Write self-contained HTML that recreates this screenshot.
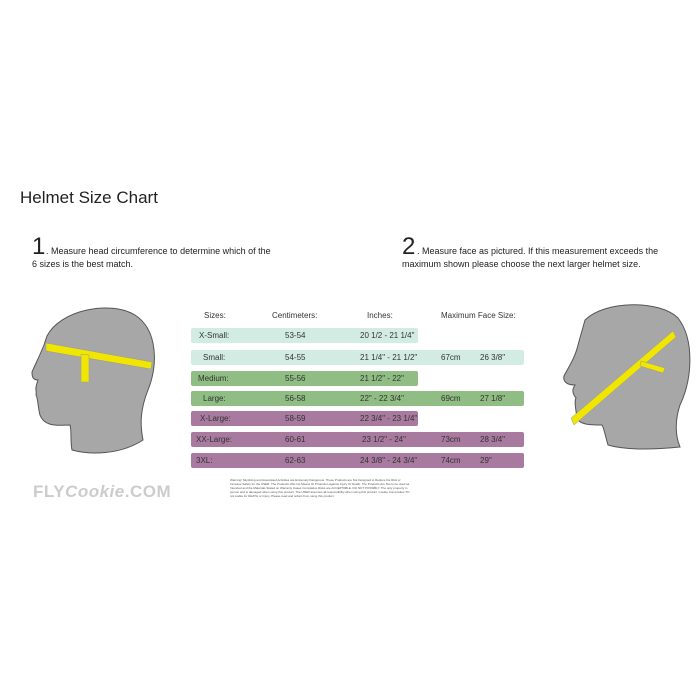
<!DOCTYPE html>
<html><head><style>
body{margin:0;width:700px;height:700px;background:#fff;font-family:"Liberation Sans",sans-serif;position:relative;overflow:hidden;color:#222}
.a{position:absolute;white-space:nowrap}
.bar{position:absolute;left:191px;height:15px;border-radius:2px}
.t{position:absolute;font-size:8px;color:#333}
</style></head><body>
<div class="a" style="left:20px;top:188px;font-size:17px;color:#222">Helmet Size Chart</div>
<div class="a" style="left:32px;top:233px;font-size:24px">1</div>
<div class="a" style="left:46px;top:245px;font-size:9px;line-height:13px">. Measure head circumference to determine which of the<br><span style="margin-left:-14px">6 sizes is the best match.</span></div>
<div class="a" style="left:402px;top:233px;font-size:24px">2</div>
<div class="a" style="left:417px;top:245px;font-size:9px;line-height:13px">. Measure face as pictured. If this measurement exceeds the<br><span style="margin-left:-15px">maximum shown please choose the next larger helmet size.</span></div>

<div class="t" style="left:204px;top:311px">Sizes:</div>
<div class="t" style="left:272px;top:311px">Centimeters:</div>
<div class="t" style="left:367px;top:311px">Inches:</div>
<div class="t" style="left:441px;top:311px">Maximum Face Size:</div>

<div class="bar" style="top:328px;width:227px;background:#d3ece3"></div>
<div class="bar" style="top:350px;width:333px;background:#d3ece3"></div>
<div class="bar" style="top:371px;width:227px;background:#8fbd83"></div>
<div class="bar" style="top:391px;width:333px;background:#8fbd83"></div>
<div class="bar" style="top:411px;width:227px;background:#a87a9f"></div>
<div class="bar" style="top:432px;width:333px;background:#a87a9f"></div>
<div class="bar" style="top:453px;width:333px;background:#a87a9f"></div>

<div class="t" style="left:199px;top:331px">X-Small:</div><div class="t" style="left:285px;top:331px">53-54</div><div class="t" style="left:360px;top:331px">20 1/2 - 21 1/4"</div>
<div class="t" style="left:203px;top:353px">Small:</div><div class="t" style="left:285px;top:353px">54-55</div><div class="t" style="left:360px;top:353px">21 1/4" - 21 1/2"</div><div class="t" style="left:441px;top:353px">67cm</div><div class="t" style="left:480px;top:353px">26 3/8"</div>
<div class="t" style="left:198px;top:374px">Medium:</div><div class="t" style="left:285px;top:374px">55-56</div><div class="t" style="left:360px;top:374px">21 1/2" - 22"</div>
<div class="t" style="left:203px;top:394px">Large:</div><div class="t" style="left:285px;top:394px">56-58</div><div class="t" style="left:360px;top:394px">22" - 22 3/4"</div><div class="t" style="left:441px;top:394px">69cm</div><div class="t" style="left:480px;top:394px">27 1/8"</div>
<div class="t" style="left:200px;top:414px">X-Large:</div><div class="t" style="left:285px;top:414px">58-59</div><div class="t" style="left:360px;top:414px">22 3/4" - 23 1/4"</div>
<div class="t" style="left:196px;top:435px">XX-Large:</div><div class="t" style="left:285px;top:435px">60-61</div><div class="t" style="left:362px;top:435px">23 1/2" - 24"</div><div class="t" style="left:441px;top:435px">73cm</div><div class="t" style="left:480px;top:435px">28 3/4"</div>
<div class="t" style="left:196px;top:456px">3XL:</div><div class="t" style="left:285px;top:456px">62-63</div><div class="t" style="left:360px;top:456px">24 3/8" - 24 3/4"</div><div class="t" style="left:441px;top:456px">74cm</div><div class="t" style="left:480px;top:456px">29"</div>

<div class="a" style="left:230px;top:478px;font-size:3px;line-height:4px;color:#555;white-space:normal;width:180px">Warning! Skydiving and Associated Activities are Extremely Dangerous. These Products are Not Designed to Reduce the Risk or Increase Safety for the USER. The Products offer No Means Of Protection against Injury Or Death. The Products Are Not to be used as Intended and the Materials Stated on Warranty Cases Cumulative Risks are ACCEPTABLE. DO NOT POSSIBLY. The only property in person and is damaged when using this product. The USER assumes all responsibility when using this product. Cookie Composites TO not Liable for DEATH or Injury. Please read and refrain from using this product.</div>

<div class="a" style="left:33px;top:482px;font-size:17px;font-weight:bold;color:#ccc;letter-spacing:0.5px">FLY<span style="font-style:italic">Cookie</span>.COM</div>

<svg class="a" style="left:0;top:0" width="700" height="700">
<path d="M47,336 C60,310 110,300 135,315 C158,330 158,365 148,390 C140,410 140,425 143,440 C120,455 90,455 72,450 C70,440 72,432 70,425 C60,425 45,428 40,415 C38,408 38,398 36,395 C37,388 34,392 38,380 C32,380 32,375 32,372 C35,365 40,355 44,345 Z" fill="#a7a7a7" stroke="#555" stroke-width="1"/>
<polygon points="46,343 152,362 151,369 46,351" fill="#f0e600" stroke="#999" stroke-width=".5"/>
<polygon points="81,354 89,355 89,382 81,382" fill="#f0e600" stroke="#999" stroke-width=".5"/>
<path d="M585,320 C605,300 660,300 678,318 C695,340 692,380 680,405 C675,420 675,435 680,447 C650,450 625,450 608,445 C605,435 604,428 602,425 C590,425 580,425 577,418 C576,410 574,402 576,398 C571,392 573,388 575,385 C565,385 563,380 564,376 C568,368 575,358 578,345 Z" fill="#a7a7a7" stroke="#555" stroke-width="1"/>
<polygon points="571,418 673,331 676,337 574,425" fill="#f0e600" stroke="#999" stroke-width=".5"/>
<polygon points="641,361 665,368 663,373 640,366" fill="#f0e600" stroke="#999" stroke-width=".5"/>
</svg>
</body></html>
